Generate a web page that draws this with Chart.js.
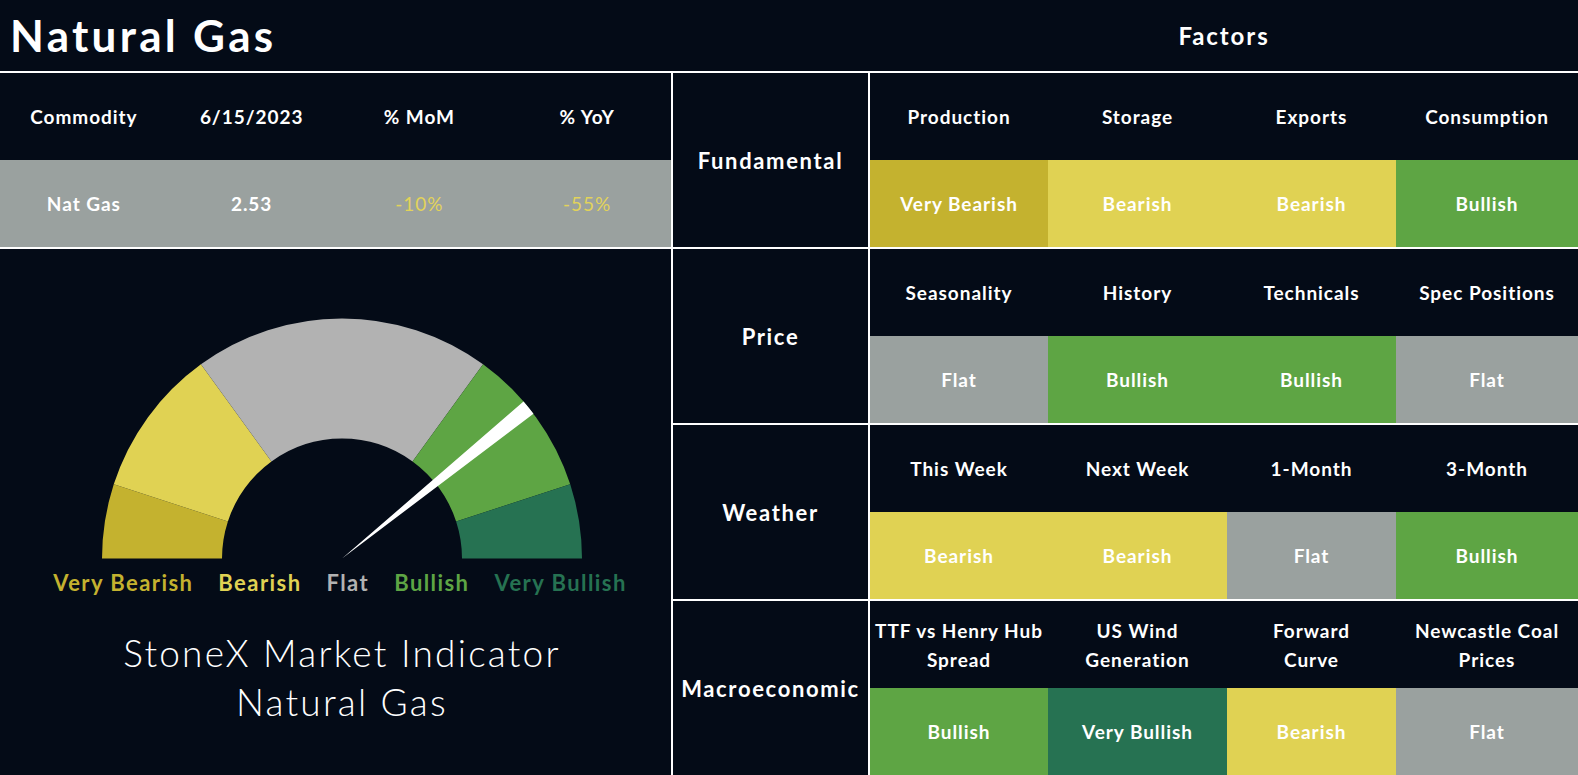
<!DOCTYPE html>
<html>
<head>
<meta charset="utf-8">
<title>Natural Gas</title>
<script src="https://cdn.jsdelivr.net/npm/chart.js@4.4.0/dist/chart.umd.min.js"></script>
<style>
  html, body { margin: 0; padding: 0; background: #040b17; }
  #page { position: relative; width: 1578px; height: 775px; overflow: hidden; background: #040b17; font-family: Lato, 'Open Sans', sans-serif; color: #fff; letter-spacing: 0.06em; }
  .abs { position: absolute; }
  .cell { position: absolute; display: flex; align-items: center; justify-content: center; text-align: center; font-weight: 700; font-size: 19px; line-height: 29px; white-space: pre-line; }
  .hline { position: absolute; height: 2px; background: #fff; }
  .vline { position: absolute; width: 2px; background: #fff; }
  #title { left: 10px; top: 13px; font-size: 44px; line-height: 44px; font-weight: 700; letter-spacing: 0.075em; }
  #factorsTitle { left: 870px; width: 708px; top: 24px; font-size: 24px; line-height: 24px; font-weight: 700; text-align: center; letter-spacing: 0.08em; }
  #gaugeBox { left: 102px; top: 318px; width: 480px; height: 241px; }
  #gaugeBox canvas { position: absolute; left: 0; top: 0; }
  #gaugeLabels { left: 40px; width: 600px; top: 572px; display: flex; justify-content: center; gap: 25px; font-size: 22px; line-height: 22px; font-weight: 700; letter-spacing: 0.065em; }
  #indicator { left: 42px; width: 600px; top: 628px; text-align: center; font-size: 37px; line-height: 49px; font-weight: 300; letter-spacing: 0.06em; }
</style>
</head>
<body>
<div id="page">
  <div id="title" class="abs">Natural Gas</div>
  <div id="factorsTitle" class="abs">Factors</div>
  <div id="gaugeBox" class="abs">
    <canvas id="gauge" width="480" height="241"></canvas>
    <canvas id="needle" width="480" height="241"></canvas>
  </div>
  <div id="gaugeLabels" class="abs"></div>
  <div id="indicator" class="abs">StoneX Market Indicator<br>Natural Gas</div>
</div>
<script>
// gauge bands, left to right
const gaugeLabels = ['Very Bearish', 'Bearish', 'Flat', 'Bullish', 'Very Bullish'];
const gaugeBands = [10, 20, 40, 20, 10];
const needleValue = 77.3;
const needleWidth = 2.1;

// commodity table
const commodityHeaders = ['Commodity', '6/15/2023', '% MoM', '% YoY'];
const commodityValues = ['Nat Gas', '2.53', '-10%', '-55%'];

// factor table
const factorGroups = ['Fundamental', 'Price', 'Weather', 'Macroeconomic'];
const fundamentalFactors = ['Production', 'Storage', 'Exports', 'Consumption'];
const fundamentalSignals = ['Very Bearish', 'Bearish', 'Bearish', 'Bullish'];
const priceFactors = ['Seasonality', 'History', 'Technicals', 'Spec Positions'];
const priceSignals = ['Flat', 'Bullish', 'Bullish', 'Flat'];
const weatherFactors = ['This Week', 'Next Week', '1-Month', '3-Month'];
const weatherSignals = ['Bearish', 'Bearish', 'Flat', 'Bullish'];
const macroFactors = ['TTF vs Henry Hub\nSpread', 'US Wind\nGeneration', 'Forward\nCurve', 'Newcastle Coal\nPrices'];
const macroSignals = ['Bullish', 'Very Bullish', 'Bearish', 'Flat'];

const signalColors = {
    'Very Bearish': '#c4b22f',
    'Bearish': '#e0d253',
    'Flat': '#9aa19f',
    'Bullish': '#5ea544',
    'Very Bullish': '#267252'
};
const gaugeColors = ['#c4b22f', '#e0d253', '#b2b2b2', '#5ea544', '#267252'];

const page = document.getElementById('page');

function addCell(x, y, w, h, text, bg, color, weight) {
    const el = document.createElement('div');
    el.className = 'cell';
    el.style.left = x + 'px';
    el.style.top = y + 'px';
    el.style.width = w + 'px';
    el.style.height = h + 'px';
    if (bg) el.style.background = bg;
    if (color) el.style.color = color;
    if (weight) el.style.fontWeight = weight;
    el.textContent = text;
    page.appendChild(el);
    return el;
}

function addLine(cls, x, y, len) {
    const el = document.createElement('div');
    el.className = cls;
    el.style.left = x + 'px';
    el.style.top = y + 'px';
    if (cls === 'hline') el.style.width = len + 'px';
    else el.style.height = len + 'px';
    page.appendChild(el);
}

// layout
const leftW = 671;
const groupX = 673;
const groupW = 195;
const factorCols = [870, 1048, 1227, 1396, 1578];
const blockTops = [73, 249, 425, 601];
const halfH = 87;

// commodity table
const colW = leftW / commodityHeaders.length;
commodityHeaders.forEach((h, i) => {
    addCell(i * colW, 73, colW, halfH, h);
});
addCell(0, 160, leftW, halfH, '', '#9aa19f');
commodityValues.forEach((v, i) => {
    const yellow = v.startsWith('-') || v.startsWith('+');
    addCell(i * colW, 160, colW, halfH, v, null, yellow ? '#e2d35a' : '#fff', yellow ? 400 : 700);
});

// factor table
const factorNames = [fundamentalFactors, priceFactors, weatherFactors, macroFactors];
const factorSignals = [fundamentalSignals, priceSignals, weatherSignals, macroSignals];
factorGroups.forEach((g, r) => {
    const top = blockTops[r];
    const groupCell = addCell(groupX, top, groupW, halfH * 2, g);
    groupCell.style.fontSize = '22px';
    groupCell.style.letterSpacing = '0.075em';
    factorNames[r].forEach((name, c) => {
        const x = factorCols[c];
        const w = factorCols[c + 1] - x;
        addCell(x, top, w, halfH, name);
        const sig = factorSignals[r][c];
        addCell(x, top + halfH, w, halfH, sig, signalColors[sig]);
    });
});

// grid lines
addLine('hline', 0, 71, 1578);
addLine('hline', 0, 247, 1578);
addLine('hline', 671, 423, 907);
addLine('hline', 671, 599, 907);
addLine('vline', 671, 72, 703);
addLine('vline', 868, 72, 703);

// gauge labels
const labelRow = document.getElementById('gaugeLabels');
gaugeLabels.forEach((l, i) => {
    const s = document.createElement('span');
    s.textContent = l;
    s.style.color = gaugeColors[i];
    labelRow.appendChild(s);
});

// gauge
const baseOptions = {
    responsive: false,
    animation: false,
    rotation: -90,
    circumference: 180,
    layout: { padding: 0 },
    plugins: { legend: { display: false }, tooltip: { enabled: false } },
    events: []
};

new Chart(document.getElementById('gauge'), {
    type: 'doughnut',
    data: {
        labels: gaugeLabels,
        datasets: [{
            data: gaugeBands,
            backgroundColor: gaugeColors,
            borderWidth: 0
        }]
    },
    options: { ...baseOptions, cutout: '50%' }
});

const gaugeTotal = gaugeBands.reduce((a, b) => a + b, 0);
new Chart(document.getElementById('needle'), {
    type: 'pie',
    data: {
        labels: ['', 'Indicator', ''],
        datasets: [{
            data: [needleValue, needleWidth, gaugeTotal - needleValue - needleWidth],
            backgroundColor: ['rgba(0,0,0,0)', '#ffffff', 'rgba(0,0,0,0)'],
            borderWidth: 0
        }]
    },
    options: { ...baseOptions, cutout: 0 }
});
</script>
</body>
</html>
